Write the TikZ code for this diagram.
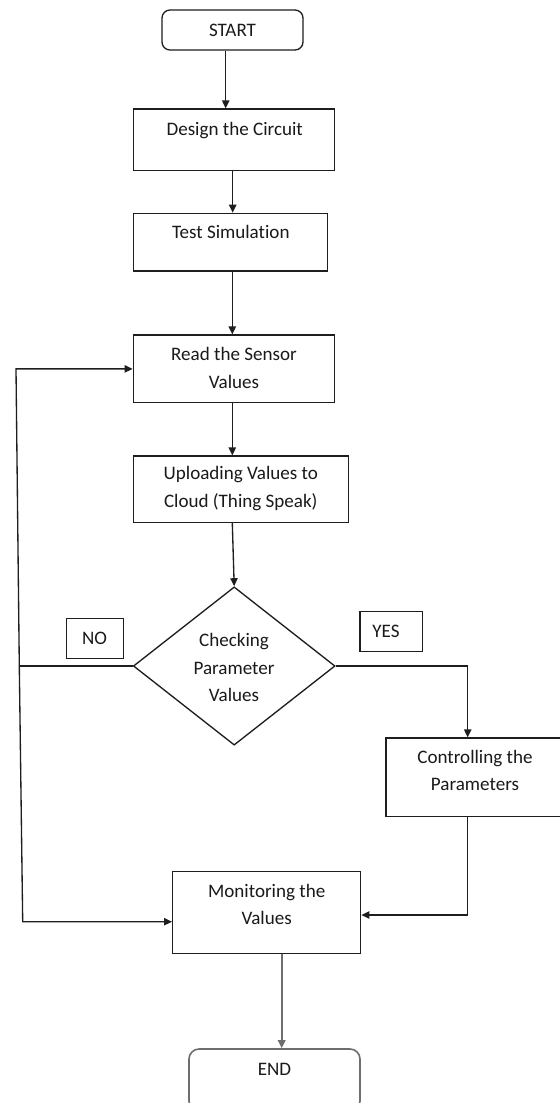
\documentclass[tikz,border=0pt]{standalone}
\usepackage{fontspec}
\setmainfont[Ligatures={NoCommon}]{Carlito}
\usetikzlibrary{shapes.geometric,arrows.meta,calc}
\newlength\pxu
\setlength\pxu{0.75pt}
\definecolor{ln}{HTML}{1E1E1E}
\definecolor{tx}{HTML}{1A1A1A}
\definecolor{gr}{HTML}{6E6E6E}
\tikzset{
  box/.style={draw=ln, line width=1pt, inner sep=0pt, rectangle},
  rbox/.style={box, rounded corners=8\pxu},
  dia/.style={draw=ln, line width=1pt, inner sep=0pt, diamond},
  txt/.style={font=\fontsize{14.3}{20.6}\selectfont, text=tx, align=center, inner sep=0pt, anchor=base},
  arr/.style={draw=ln, line width=1pt, -{Triangle[length=6pt,width=5.5pt]}},
  ln/.style={draw=ln, line width=1pt}
}
\begin{document}
\begin{tikzpicture}[x=0.75pt,y=-0.75pt]
\useasboundingbox (0,0) rectangle (560,1103);
\fill[white] (0,0) rectangle (560,1103);
% boxes
\node[rbox, minimum width=141\pxu, minimum height=40\pxu] (start) at (232.5,30) {};
\node[box, minimum width=201\pxu, minimum height=61.7\pxu] (design) at (233.8,139.9) {};
\node[box, minimum width=194\pxu, minimum height=57.7\pxu] (test) at (230.3,242.2) {};
\node[box, minimum width=201\pxu, minimum height=67.7\pxu] (read) at (233.8,368.9) {};
\node[box, minimum width=215\pxu, minimum height=66.3\pxu] (upload) at (240.8,489.2) {};
\node[dia, minimum width=201.7\pxu, minimum height=158.3\pxu, aspect=1.274] (diam) at (234.2,666) {};
\node[box, minimum width=57\pxu, minimum height=40\pxu] (no) at (94.7,638.3) {};
\node[box, minimum width=62.7\pxu, minimum height=40\pxu] (yes) at (391.3,631.7) {};
\node[box, minimum width=178\pxu, minimum height=78.7\pxu] (ctrl) at (475,777.4) {};
\node[box, minimum width=188\pxu, minimum height=81.6\pxu] (mon) at (266.7,912.5) {};
\node[box, draw=gr, line width=1.2pt, rounded corners=10\pxu, minimum width=171\pxu, minimum height=62\pxu] (fin) at (274.5,1080) {};
% texts (base = last line's baseline)
\node[txt] (tstart) at (232.5,36.4) {START};
\node[txt] (tdesign) at (234.7,135) {Design the Circuit};
\node[txt] (ttest) at (230.8,238.7) {Test Simulation};
\node[txt] (tread) at (234,388) {Read the Sensor\\Values};
\node[txt] (tupload) at (240.8,507.4) {Uploading Values to\\Cloud (Thing Speak)};
\node[txt] (tdiam) at (234,701.7) {Checking\\Parameter\\Values};
\node[txt] (tno) at (94.5,644) {NO};
\node[txt] (tyes) at (386,637.3) {YES};
\node[txt] (tctrl) at (475,790.7) {Controlling the\\Parameters};
\node[txt] (tmon) at (266.7,924.7) {Monitoring the\\Values};
\node[txt] (tfin) at (274.5,1075) {END};
% connectors
\coordinate (a1) at ($(start.south)+(-6.8,0)$);
\coordinate (a2) at ($(design.south)+(-1.1,0)$);
\coordinate (a3) at ($(test.south)+(2,0)$);
\coordinate (a4) at ($(read.south)+(-1.5,0)$);
\coordinate (a5) at ($(upload.south)+(-8.5,0)$);
\coordinate (a6) at ($(mon.south)+(15,0)$);
\draw[arr] (a1) -- (a1 |- design.north);
\draw[arr] (a2) -- (a2 |- test.north);
\draw[arr] (a3) -- (a3 |- read.north);
\draw[arr] (a4) -- (a4 |- upload.north);
\draw[arr] (a5) -- (diam.north);
\coordinate (rt) at (467.7,666);
\draw[arr] (diam.east) -- (rt) -- (rt |- ctrl.north);
\coordinate (rb) at (467.7,915);
\draw[arr] (rt |- ctrl.south) -- (rb) -- (rb -| mon.east);
\coordinate (lt) at (16,368.9);
\coordinate (lm) at (19.3,666);
\coordinate (lb) at (22.7,921.7);
\draw[ln] (diam.west) -- (lm);
\draw[arr] (lm) -- (lt) -- (read.west);
\draw[arr] (lm) -- (lb) -- (lb -| mon.west);
\draw[draw=gr, line width=1.5pt, -{Triangle[length=6pt,width=5.5pt]}] (a6) -- (a6 |- fin.north);
\end{tikzpicture}
\end{document}
